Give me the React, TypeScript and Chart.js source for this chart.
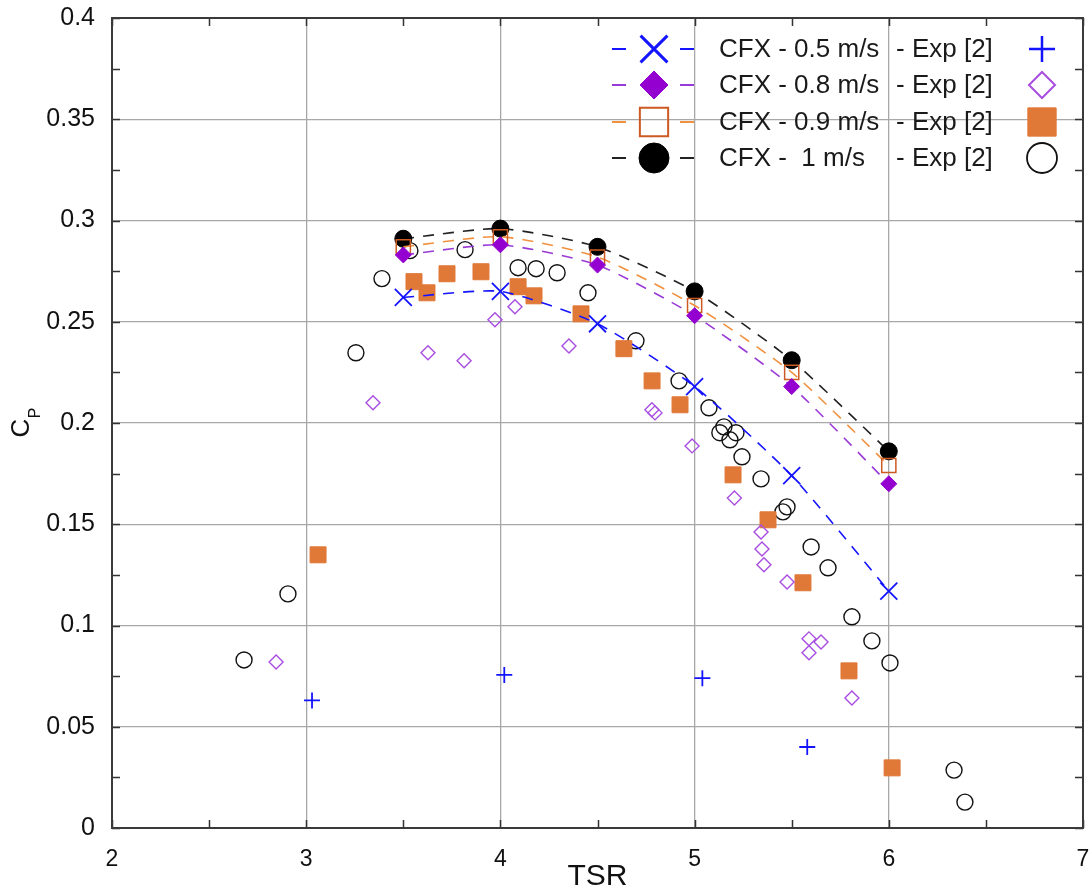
import React, { useEffect, useRef } from 'react';
import { Chart, registerables } from 'chart.js';

Chart.register(...registerables);

// ---------- data ----------
const cfxTSR = [3.5, 4, 4.5, 5, 5.5, 6];
const cfx05 = [0.262, 0.265, 0.249, 0.218, 0.174, 0.117];
const cfx08 = [0.283, 0.288, 0.278, 0.253, 0.218, 0.170];
const cfx09 = [0.287, 0.292, 0.282, 0.258, 0.225, 0.179];
const cfx10 = [0.291, 0.296, 0.287, 0.265, 0.231, 0.186];

const exp05TSR = [3.03, 4.02, 5.04, 5.58];
const exp05Cp = [0.063, 0.0756, 0.074, 0.040];

const exp08TSR = [2.845, 3.344, 3.627, 3.813, 3.972, 4.075, 4.353, 4.78, 4.796, 4.987, 5.205, 5.342, 5.347, 5.357, 5.476, 5.589, 5.651, 5.589, 5.81];
const exp08Cp = [0.082, 0.21, 0.2347, 0.2307, 0.251, 0.2574, 0.238, 0.2065, 0.205, 0.1887, 0.163, 0.1462, 0.1378, 0.13, 0.1215, 0.0934, 0.0919, 0.0865, 0.0642];

const exp09TSR = [3.061, 3.555, 3.622, 3.725, 3.9, 4.091, 4.173, 4.415, 4.636, 4.781, 4.925, 5.198, 5.378, 5.558, 5.795, 6.017];
const exp09Cp = [0.1349, 0.2698, 0.2643, 0.2737, 0.2747, 0.2673, 0.2628, 0.2539, 0.2367, 0.2208, 0.209, 0.1744, 0.1522, 0.1211, 0.0776, 0.0297];

const exp10TSR = [2.68, 2.906, 3.256, 3.39, 3.534, 3.818, 4.091, 4.184, 4.292, 4.451, 4.698, 4.92, 5.074, 5.13, 5.151, 5.213, 5.182, 5.244, 5.342, 5.455, 5.476, 5.6, 5.687, 5.81, 5.913, 6.006, 6.336, 6.392];
const exp10Cp = [0.083, 0.1156, 0.2347, 0.2713, 0.2851, 0.2856, 0.2767, 0.2762, 0.2742, 0.2643, 0.2406, 0.2208, 0.2075, 0.1952, 0.1981, 0.1952, 0.1917, 0.1833, 0.1724, 0.1561, 0.1586, 0.1388, 0.1285, 0.1043, 0.0924, 0.0815, 0.0286, 0.0128];

const xTickLabels = ['2', '3', '4', '5', '6', '7'];
const yTickLabels = ['0', '0.05', '0.1', '0.15', '0.2', '0.25', '0.3', '0.35', '0.4'];
const legendCfxLabels = ['CFX - 0.5 m/s', 'CFX - 0.8 m/s', 'CFX - 0.9 m/s', 'CFX -  1 m/s'];
const legendExpLabel = '- Exp [2]';
const xTitle = 'TSR';
const yTitleMain = 'C';
const yTitleSub = 'P';

// ---------- styles ----------
const FONT = '"Liberation Sans", Arial, Helvetica, sans-serif';
const BLUE = '#1414ff';
const PURPLE = '#9400d0';
const PURPLE_LINE = '#9a3ad6';
const PURPLE_LIGHT = '#a84ee0';
const ORANGE = '#e07838';
const ORANGE_LINE = '#f0913f';
const ORANGE_DARK = '#cc5a22';
const BLACK = '#000000';

const X_MIN = 2, X_MAX = 7, X_STEP = 1, X_MINOR = 0.5;
const Y_MIN = 0, Y_MAX = 0.4, Y_STEP = 0.05, Y_MINOR = 0.025;

const pts = (xs: number[], ys: number[]) => xs.map((x, i) => ({ x, y: ys[i] }));

type MarkerSpec = { style: string; r: number; stroke: string; fill: string | null; lw: number };

function drawMarker(ctx: CanvasRenderingContext2D, m: MarkerSpec, x: number, y: number) {
  ctx.save();
  ctx.setLineDash([]);
  ctx.lineWidth = m.lw;
  ctx.strokeStyle = m.stroke;
  ctx.fillStyle = m.fill || 'transparent';
  ctx.beginPath();
  const r = m.r;
  if (m.style === 'crossRot') {
    const d = r * Math.SQRT1_2;
    ctx.moveTo(x - d, y - d); ctx.lineTo(x + d, y + d);
    ctx.moveTo(x - d, y + d); ctx.lineTo(x + d, y - d);
    ctx.stroke();
  } else if (m.style === 'cross') {
    ctx.moveTo(x - r, y); ctx.lineTo(x + r, y);
    ctx.moveTo(x, y - r); ctx.lineTo(x, y + r);
    ctx.stroke();
  } else if (m.style === 'rectRot') {
    ctx.moveTo(x, y - r); ctx.lineTo(x + r, y); ctx.lineTo(x, y + r); ctx.lineTo(x - r, y); ctx.closePath();
    if (m.fill) ctx.fill();
    ctx.stroke();
  } else if (m.style === 'rect') {
    const h = r * Math.SQRT1_2;
    ctx.rect(x - h, y - h, 2 * h, 2 * h);
    if (m.fill) ctx.fill();
    ctx.stroke();
  } else {
    ctx.arc(x, y, r, 0, Math.PI * 2);
    if (m.fill) ctx.fill();
    ctx.stroke();
  }
  ctx.restore();
}

const legendCfx: MarkerSpec[] = [
  { style: 'crossRot', r: 19, stroke: BLUE, fill: null, lw: 3 },
  { style: 'rectRot', r: 14, stroke: PURPLE, fill: PURPLE, lw: 1 },
  { style: 'rect', r: 20, stroke: ORANGE_DARK, fill: null, lw: 2 },
  { style: 'circle', r: 15, stroke: BLACK, fill: BLACK, lw: 1 },
];
const legendLine = [BLUE, PURPLE_LINE, ORANGE_LINE, '#222222'];
const legendExp: MarkerSpec[] = [
  { style: 'cross', r: 13, stroke: BLUE, fill: null, lw: 2.5 },
  { style: 'rectRot', r: 13, stroke: PURPLE_LIGHT, fill: null, lw: 2 },
  { style: 'rect', r: 20, stroke: ORANGE, fill: ORANGE, lw: 1 },
  { style: 'circle', r: 15, stroke: '#111', fill: null, lw: 1.8 },
];

const framePlugin = {
  id: 'frame',
  afterDraw(chart: any) {
    const ctx: CanvasRenderingContext2D = chart.ctx;
    const { left, right, top, bottom } = chart.chartArea;
    const xs = chart.scales.x;
    const ys = chart.scales.y;
    ctx.save();
    // inward ticks
    ctx.strokeStyle = '#333';
    ctx.lineWidth = 1.5;
    ctx.beginPath();
    for (let v = X_MIN; v <= X_MAX + 1e-9; v += X_MINOR) {
      const px = Math.round(xs.getPixelForValue(v)) + 0.5;
      ctx.moveTo(px, bottom); ctx.lineTo(px, bottom - 8);
      ctx.moveTo(px, top); ctx.lineTo(px, top + 8);
    }
    for (let v = Y_MIN; v <= Y_MAX + 1e-9; v += Y_MINOR) {
      const py = Math.round(ys.getPixelForValue(v)) + 0.5;
      ctx.moveTo(left, py); ctx.lineTo(left + 8, py);
      ctx.moveTo(right, py); ctx.lineTo(right - 8, py);
    }
    ctx.stroke();
    // frame
    ctx.strokeStyle = '#3a3a3a';
    ctx.lineWidth = 2;
    ctx.strokeRect(left, top, right - left, bottom - top);

    // x tick labels
    ctx.fillStyle = '#111';
    ctx.textAlign = 'center';
    ctx.textBaseline = 'middle';
    ctx.font = `23px ${FONT}`;
    xTickLabels.forEach((lab, i) => {
      ctx.fillText(lab, xs.getPixelForValue(X_MIN + i * X_STEP), 860);
    });

    // axis titles
    ctx.font = `30px ${FONT}`;
    ctx.fillText(xTitle, (left + right) / 2, 877);

    ctx.save();
    ctx.translate(22, 428);
    ctx.rotate(-Math.PI / 2);
    ctx.font = `26px ${FONT}`;
    ctx.fillText(yTitleMain, 0, 0);
    ctx.font = `16px ${FONT}`;
    ctx.fillText(yTitleSub, 15, 14);
    ctx.restore();

    // legend
    const rowY = [49, 85, 122, 158];
    for (let i = 0; i < 4; i++) {
      const y = rowY[i];
      ctx.save();
      ctx.strokeStyle = legendLine[i];
      ctx.lineWidth = 1.8;
      ctx.setLineDash([14, 54]);
      ctx.beginPath();
      ctx.moveTo(612, y); ctx.lineTo(694, y);
      ctx.stroke();
      ctx.restore();
      drawMarker(ctx, legendCfx[i], 654, y);
      ctx.fillStyle = '#1a1a1a';
      ctx.textAlign = 'left';
      ctx.textBaseline = 'middle';
      ctx.font = `26px ${FONT}`;
      ctx.fillText(legendCfxLabels[i], 719, y + 1);
      ctx.fillText(legendExpLabel, 896, y + 1);
      drawMarker(ctx, legendExp[i], 1042, y);
    }
    ctx.restore();
  },
};

export default function App() {
  const ref = useRef<HTMLCanvasElement>(null);
  useEffect(() => {
    document.body.style.margin = '0';
    const canvas = ref.current!;
    const cfxCommon = { showLine: true, borderWidth: 1.6, borderDash: [11, 9], tension: 0.2, fill: false };
    const chart = new Chart(canvas, {
      type: 'scatter',
      data: {
        datasets: [
          {
            ...cfxCommon, label: 'CFX 0.5', data: pts(cfxTSR, cfx05),
            borderColor: BLUE, pointStyle: 'crossRot', pointRadius: 12, pointBorderWidth: 1.8,
            pointBorderColor: BLUE, pointBackgroundColor: 'transparent',
          },
          {
            ...cfxCommon, label: 'CFX 0.8', data: pts(cfxTSR, cfx08),
            borderColor: PURPLE_LINE, pointStyle: 'rectRot', pointRadius: 8, pointBorderWidth: 1,
            pointBorderColor: PURPLE, pointBackgroundColor: PURPLE,
          },
          {
            ...cfxCommon, label: 'CFX 0.9', data: pts(cfxTSR, cfx09),
            borderColor: ORANGE_LINE, pointStyle: 'rect', pointRadius: 10, pointBorderWidth: 1.5,
            pointBorderColor: ORANGE_DARK, pointBackgroundColor: 'transparent',
          },
          {
            ...cfxCommon, label: 'CFX 1', data: pts(cfxTSR, cfx10),
            borderColor: '#222222', pointStyle: 'circle', pointRadius: 8.5, pointBorderWidth: 1,
            pointBorderColor: BLACK, pointBackgroundColor: BLACK,
          },
          {
            label: 'Exp 0.5', data: pts(exp05TSR, exp05Cp), showLine: false,
            pointStyle: 'cross', pointRadius: 8, pointBorderWidth: 1.8,
            pointBorderColor: BLUE, pointBackgroundColor: 'transparent',
          },
          {
            label: 'Exp 0.8', data: pts(exp08TSR, exp08Cp), showLine: false,
            pointStyle: 'rectRot', pointRadius: 7, pointBorderWidth: 1.4,
            pointBorderColor: PURPLE_LIGHT, pointBackgroundColor: 'transparent',
          },
          {
            label: 'Exp 0.9', data: pts(exp09TSR, exp09Cp), showLine: false,
            pointStyle: 'rect', pointRadius: 11.3, pointBorderWidth: 1,
            pointBorderColor: ORANGE, pointBackgroundColor: ORANGE,
          },
          {
            label: 'Exp 1', data: pts(exp10TSR, exp10Cp), showLine: false,
            pointStyle: 'circle', pointRadius: 8, pointBorderWidth: 1.4,
            pointBorderColor: '#111', pointBackgroundColor: 'transparent',
          },
        ],
      },
      options: {
        responsive: false,
        animation: false,
        layout: { autoPadding: false, padding: { top: 18, right: 6, bottom: 0, left: 0 } },
        plugins: { legend: { display: false }, tooltip: { enabled: false } },
        scales: {
          x: {
            type: 'linear', min: X_MIN, max: X_MAX,
            afterFit: (s: any) => { s.height = 65; s.paddingLeft = 0; s.paddingRight = 0; },
            grid: { color: '#a8a8a8', lineWidth: 1.3, drawTicks: false },
            border: { display: false },
            ticks: { stepSize: X_STEP, display: false },
          },
          y: {
            type: 'linear', min: Y_MIN, max: Y_MAX,
            afterFit: (s: any) => { s.width = 112; s.paddingTop = 0; s.paddingBottom = 0; },
            grid: { color: '#a8a8a8', lineWidth: 1.3, drawTicks: false },
            border: { display: false },
            ticks: {
              stepSize: Y_STEP, padding: 17, color: '#111',
              font: { family: FONT, size: 25 },
              callback: (_v: any, i: number) => yTickLabels[i],
            },
          },
        },
      },
      plugins: [framePlugin],
    } as any);
    return () => chart.destroy();
  }, []);
  return (
    <div style={{ width: 1089, height: 893 }}>
      <canvas ref={ref} width={1089} height={893} style={{ display: 'block' }} />
    </div>
  );
}
